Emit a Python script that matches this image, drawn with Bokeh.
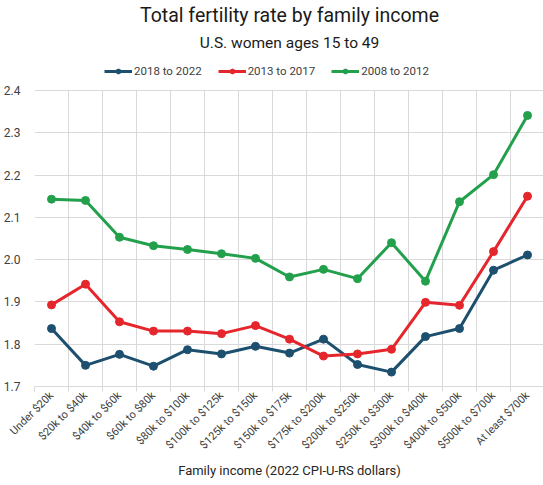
import numpy as np
from bokeh.plotting import figure
from bokeh.models import (Range1d, FixedTicker, Legend, LegendItem, Title)
from bokeh.embed import file_html
from bokeh.resources import INLINE

categories = ["Under $20k", "$20k to $40k", "$40k to $60k", "$60k to $80k",
              "$80k to $100k", "$100k to $125k", "$125k to $150k",
              "$150k to $175k", "$175k to $200k", "$200k to $250k",
              "$250k to $300k", "$300k to $400k", "$400k to $500k",
              "$500k to $700k", "At least $700k"]

s2018_2022 = [1.837, 1.750, 1.776, 1.748, 1.787, 1.777, 1.795, 1.779,
              1.812, 1.752, 1.734, 1.818, 1.837, 1.975, 2.011]
s2013_2017 = [1.893, 1.942, 1.853, 1.831, 1.831, 1.825, 1.844, 1.812,
              1.772, 1.777, 1.788, 1.899, 1.892, 2.019, 2.150]
s2008_2012 = [2.143, 2.140, 2.053, 2.033, 2.024, 2.014, 2.003, 1.959,
              1.977, 1.955, 2.040, 1.949, 2.137, 2.201, 2.341]

series_names = ["2018 to 2022", "2013 to 2017", "2008 to 2012"]
colors = ["#1D4F6E", "#E5262C", "#23A04C"]
y_ticks = [1.7, 1.8, 1.9, 2.0, 2.1, 2.2, 2.3, 2.4]

FONT = "Roboto"
n = len(categories)
xs = [i + 0.5 for i in range(n)]
y_min, y_max = y_ticks[0], y_ticks[-1]

FRAME_H = 330       # frame height in px
HEAD = 34           # px of headroom above the top tick (legend lives there)
y_top = y_max + (y_max - y_min) * HEAD / (FRAME_H - HEAD)

p = figure(frame_width=510, frame_height=FRAME_H, output_backend="svg",
           toolbar_location=None,
           x_range=Range1d(0, n), y_range=Range1d(y_min, y_top),
           min_border_left=0, min_border_right=0, min_border_bottom=0,
           min_border_top=0)
p.outline_line_color = None
p.background_fill_color = "white"
p.border_fill_color = "white"

# x axis
p.xaxis.ticker = FixedTicker(ticks=xs, minor_ticks=list(range(n + 1)))
p.xaxis.major_label_overrides = {x: c for x, c in zip(xs, categories)}
p.xaxis.major_label_orientation = np.pi / 4
p.xaxis.major_tick_line_color = None
p.xaxis.major_tick_out = 0
p.xaxis.minor_tick_out = 5
p.xaxis.minor_tick_in = 0
p.xaxis.minor_tick_line_color = "#D9D9D9"
p.xaxis.axis_line_color = "#D9D9D9"
p.xaxis.major_label_text_font = FONT
p.xaxis.major_label_text_font_size = "11px"
p.xaxis.major_label_text_color = "#404040"
p.xaxis.major_label_standoff = 2
p.xaxis.axis_label = "Family income (2022 CPI-U-RS dollars)"
p.xaxis.axis_label_text_font = FONT
p.xaxis.axis_label_text_font_size = "13px"
p.xaxis.axis_label_text_font_style = "normal"
p.xaxis.axis_label_text_color = "#262626"
p.xaxis.axis_label_standoff = 4

# y axis
p.yaxis.ticker = FixedTicker(ticks=y_ticks)
p.yaxis.major_label_overrides = {t: f"{t:.1f}" for t in y_ticks}
p.yaxis.axis_line_color = None
p.yaxis.major_tick_line_color = None
p.yaxis.minor_tick_line_color = None
p.yaxis.major_tick_out = 0
p.yaxis.major_label_text_font = FONT
p.yaxis.major_label_text_font_size = "12px"
p.yaxis.major_label_text_color = "#404040"
p.yaxis.major_label_standoff = 14

# grids
p.xgrid.ticker = FixedTicker(ticks=list(range(n + 1)))
p.xgrid.grid_line_color = "#D9D9D9"
p.xgrid.grid_line_width = 1
if "cross_bounds" in p.xgrid[0].properties():
    p.xgrid.cross_bounds = (y_min, y_max)
p.ygrid.grid_line_color = "#D9D9D9"
p.ygrid.grid_line_width = 1

items = []
for name, vals, col in zip(series_names, [s2018_2022, s2013_2017, s2008_2012], colors):
    r1 = p.line(xs, vals, line_color=col, line_width=3)
    r2 = p.scatter(xs, vals, size=8, fill_color=col, line_color=col)
    items.append(LegendItem(label=name, renderers=[r1, r2]))

legend = Legend(items=items, orientation="horizontal",
                location=(70, FRAME_H - HEAD + 12),
                label_text_font=FONT, label_text_font_size="11.5px",
                label_text_color="#404040", glyph_width=28, glyph_height=12,
                spacing=16, padding=2, margin=0, label_standoff=2,
                border_line_color=None, background_fill_alpha=0)
p.add_layout(legend, "center")

sub = Title(text="U.S. women ages 15 to 49", align="center",
            text_font=FONT, text_font_size="15.5px", text_font_style="normal",
            text_color="#1a1a1a", standoff=9)
p.add_layout(sub, "above")
t = Title(text="Total fertility rate by family income", align="center",
          text_font=FONT, text_font_size="19.5px", text_font_style="normal",
          text_color="#1a1a1a", standoff=2)
p.add_layout(t, "above")

open("out.html", "w").write(file_html(p, INLINE))
